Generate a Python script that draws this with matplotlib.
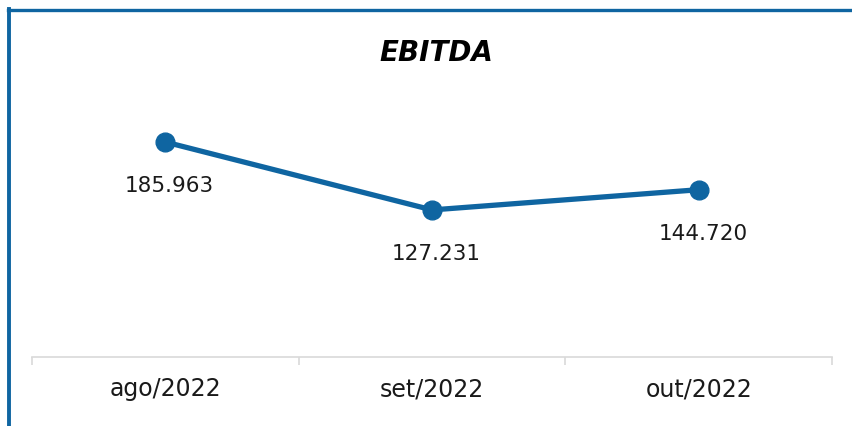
import matplotlib
matplotlib.use("Agg")
import matplotlib.pyplot as plt
from matplotlib.lines import Line2D

categories = ["ago/2022", "set/2022", "out/2022"]
values = [185963, 127231, 144720]
value_labels = ["185.963", "127.231", "144.720"]
title = "EBITDA"

blue = "#0F65A1"
plt.rcParams['font.family'] = ['DejaVu Sans']

fig = plt.figure(figsize=(8.53, 4.27), dpi=100)
ax = fig.add_axes([32/853, 1-358/427, 800/853, (358-126.8)/427])

x = list(range(len(categories)))
ax.plot(x, values, color=blue, lw=3.8, marker='o', ms=13.5, solid_capstyle='round', zorder=3, clip_on=False)
for xi, v, lab in zip(x, values, value_labels):
    ax.annotate(lab, (xi, v), xytext=(3, -31), textcoords='offset points',
                ha='center', va='center', fontsize=15.5, color='#1a1a1a')

ax.set_xlim(-0.5, len(categories) - 0.5)
ax.set_ylim(0, 200000)
ax.set_yticks([])
for s in ['top', 'right', 'left']:
    ax.spines[s].set_visible(False)
ax.spines['bottom'].set_color('#d9d9d9')
ax.spines['bottom'].set_linewidth(1.2)
ax.set_xticks([i - 0.5 for i in range(len(categories) + 1)], minor=False)
ax.set_xticklabels([])
ax.tick_params(axis='x', which='major', length=6, color='#d9d9d9', width=1.2)
ax.set_xticks(x, minor=True)
ax.set_xticklabels(categories, minor=True)
ax.tick_params(axis='x', which='minor', length=0, pad=14, labelsize=17, labelcolor='#1a1a1a')

fig.text(436/853, 1-53/427, title, ha='center', va='center', fontsize=20, fontweight='bold', fontstyle='italic', color='black')

# border
fig.add_artist(Line2D([9.3/853, 9.3/853], [0, 1-10/427], color=blue, lw=2.8, transform=fig.transFigure))
fig.add_artist(Line2D([8/853, 1], [1-11.3/427, 1-11.3/427], color=blue, lw=2.4, transform=fig.transFigure))

fig.savefig("out.png", dpi=100)
